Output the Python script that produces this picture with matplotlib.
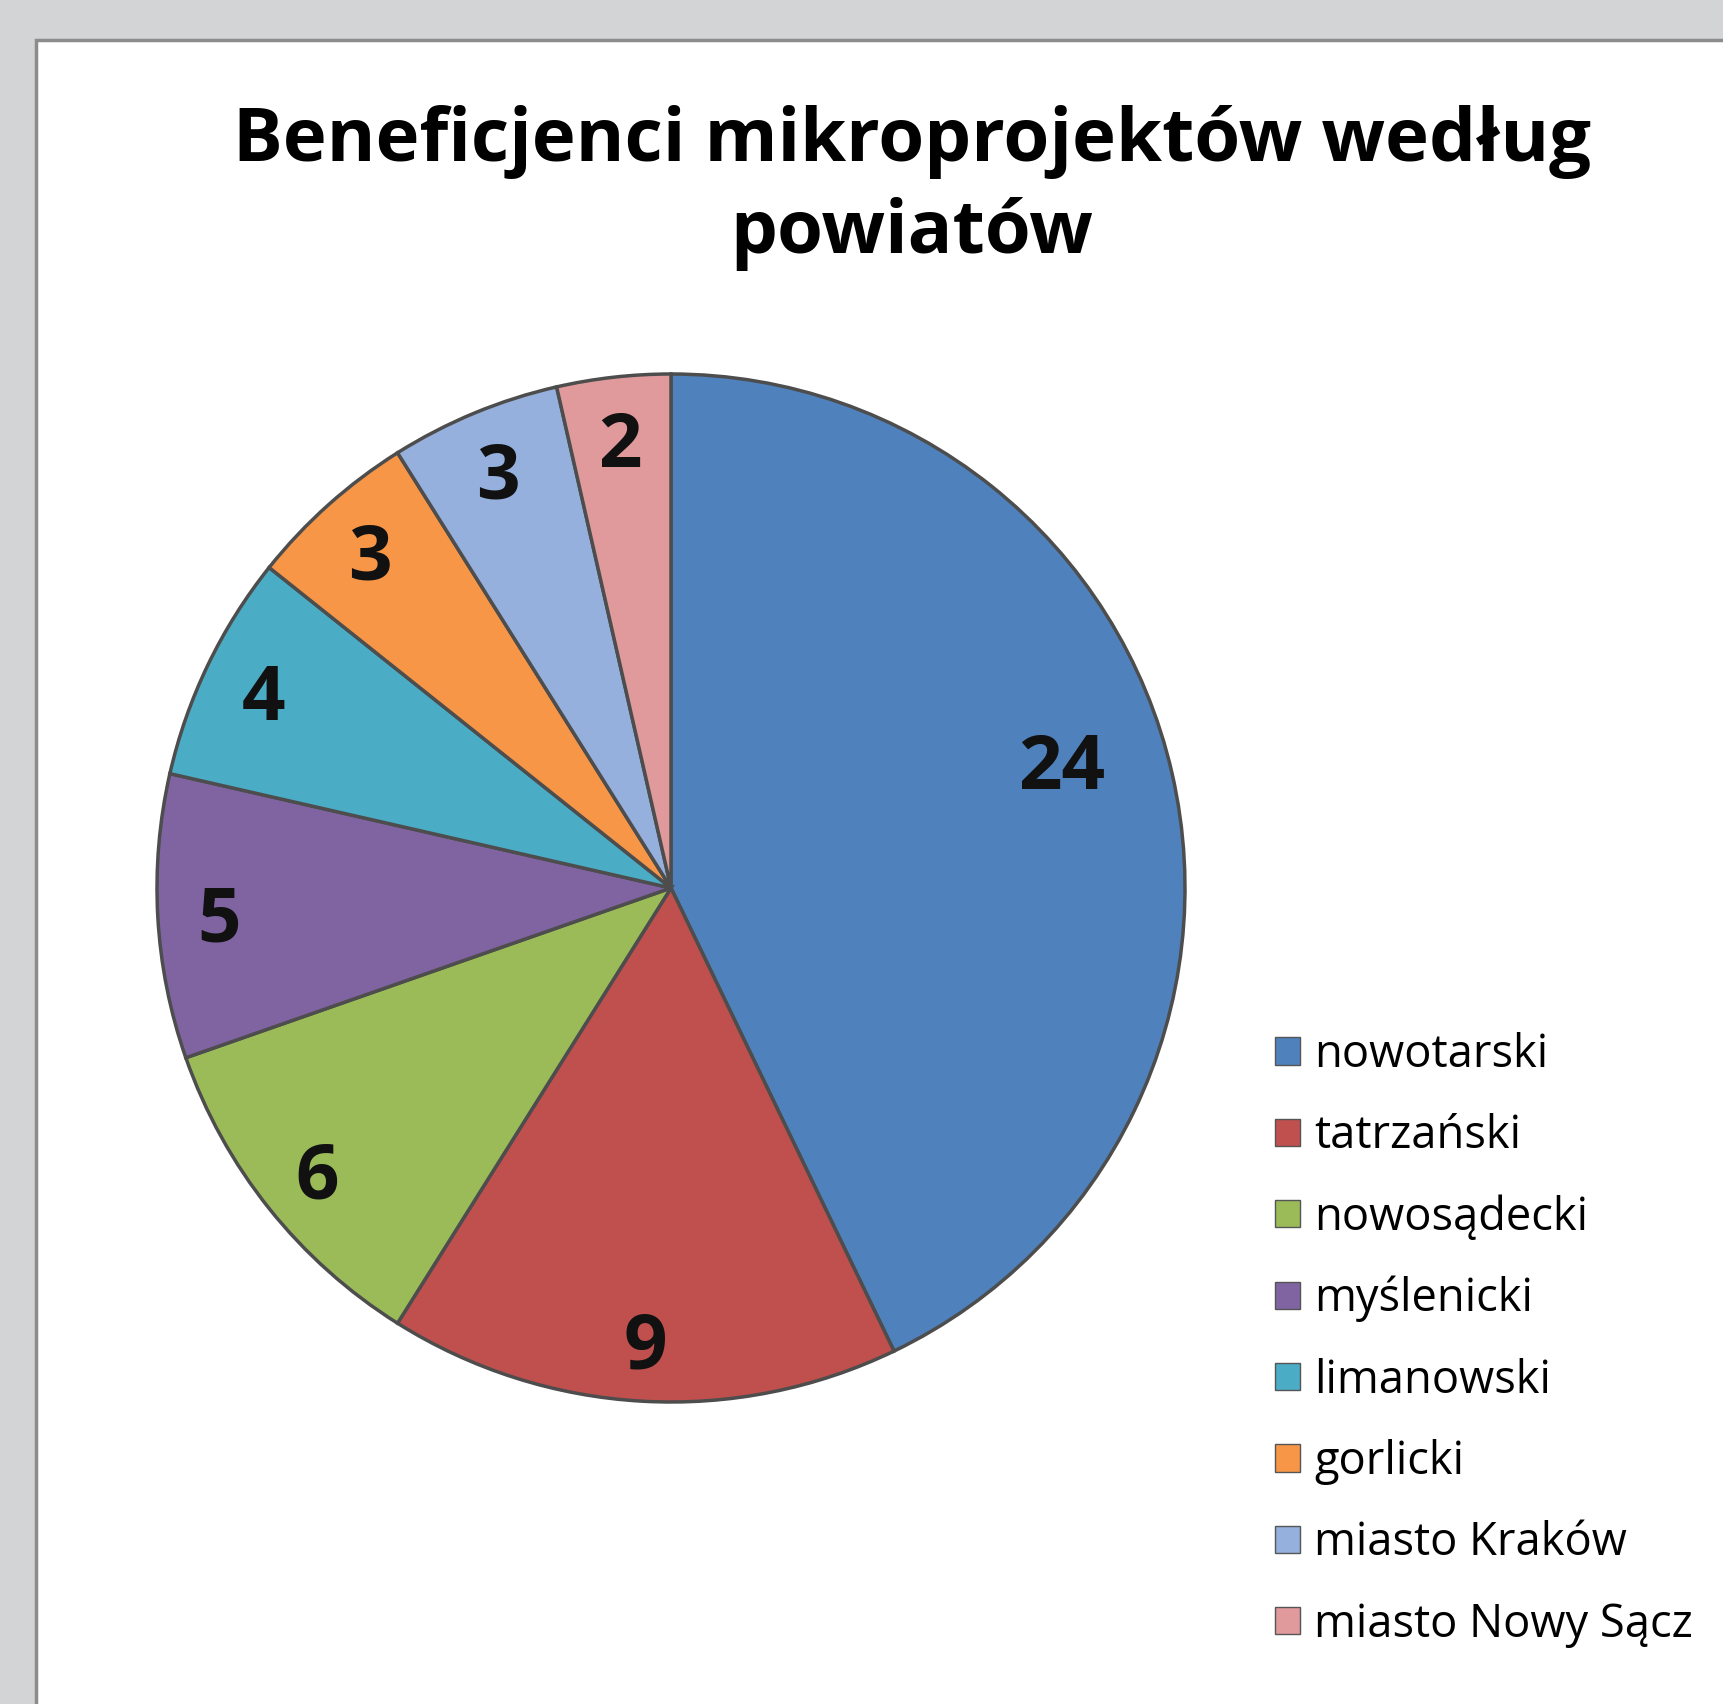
import matplotlib.pyplot as plt
import numpy as np
from matplotlib.patches import Rectangle

counties = ["nowotarski", "tatrzański", "nowosądecki", "myślenicki",
            "limanowski", "gorlicki", "miasto Kraków", "miasto Nowy Sącz"]
beneficiaries = [24, 9, 6, 5, 4, 3, 3, 2]
colors = ["#4f81bd", "#c0504d", "#9bbb59", "#8064a2",
          "#4bacc6", "#f79646", "#95b0dc", "#e09a9c"]
title = "Beneficjenci mikroprojektów według\npowiatów"


def plot_graph():
    W, H = 1724, 1704
    fig = plt.figure(figsize=(W / 100, H / 100), dpi=100)
    fig.patch.set_facecolor("#d3d4d6")

    # white chart area with thin grey border, running off right/bottom edge
    fig.patches.append(Rectangle((36 / W, -0.01), 1.02, 1 - 40 / H + 0.01,
                                 transform=fig.transFigure, facecolor="white",
                                 edgecolor="#8c8c8c", linewidth=2.5, zorder=-5))

    fig.text(912 / W, 1 - 188 / H, title, ha="center", va="center",
             fontsize=53.5, fontweight="bold", family="Open Sans",
             linespacing=1.32)

    cx, cy, r = 671, 888, 514
    ax = fig.add_axes([(cx - r) / W, (H - cy - r) / H, 2 * r / W, 2 * r / H])
    ax.set_zorder(2)
    wedges, _ = ax.pie(beneficiaries, colors=colors, startangle=90,
                       counterclock=False, radius=1,
                       wedgeprops=dict(edgecolor="#4d4d4d", linewidth=2.5))

    for i, w in enumerate(wedges):
        ang = np.deg2rad((w.theta1 + w.theta2) / 2)
        rad = 0.88
        if i == 0:
            ang = np.deg2rad(18)
            rad = 0.8
        ax.text(rad * np.cos(ang), rad * np.sin(ang), str(beneficiaries[i]),
                ha="center", va="center_baseline", fontsize=55,
                fontweight="bold", family="Open Sans", color="#111111")

    ax.set_xlim(-1, 1)
    ax.set_ylim(-1, 1)
    ax.set_aspect("equal")
    ax.axis("off")

    leg = fig.legend(wedges, counties, loc="upper left",
                     bbox_to_anchor=(1275 / W, 1 - 1032 / H),
                     frameon=False, prop={"family": "Open Sans", "size": 32.6},
                     handlelength=0.55, handleheight=0.55, handletextpad=0.32,
                     labelspacing=0.78, borderpad=0, borderaxespad=0)
    for h in leg.legend_handles:
        h.set_edgecolor("#555555")
        h.set_linewidth(1)

    fig.savefig("out.png", dpi=100, facecolor=fig.get_facecolor())


if __name__ == '__main__':
    plot_graph()
